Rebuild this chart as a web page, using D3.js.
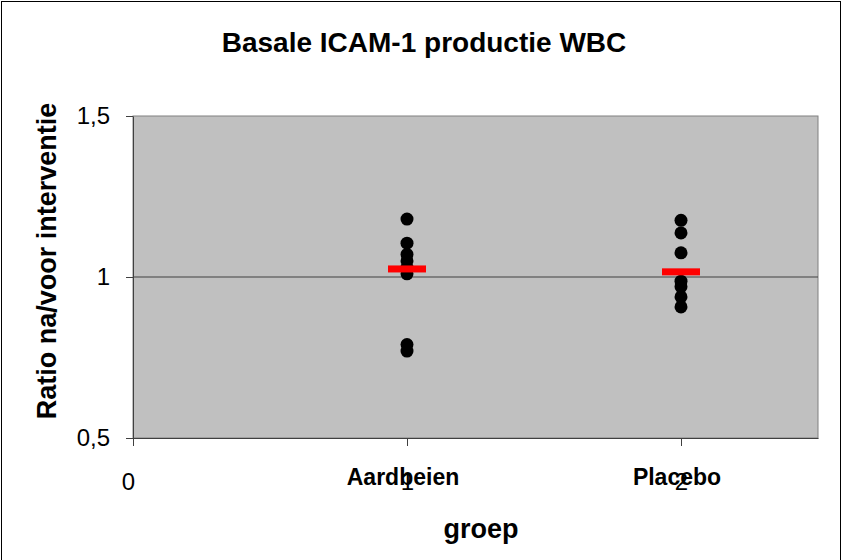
<!DOCTYPE html>
<html>
<head>
<meta charset="utf-8">
<script src="https://cdn.jsdelivr.net/npm/d3@7"></script>
<style>
	body { margin: 0; background: #fff; }
	svg { display: block; font-family: "Liberation Sans", Arial, sans-serif; }
</style>
</head>
<body>
<svg id="chart"></svg>
<script>
const title = "Basale ICAM-1 productie WBC"
const yTitle = "Ratio na/voor interventie"
const xTitle = "groep"
const categories = ["Aardbeien", "Placebo"]
const categoryPos = [1, 2]
const aardbeien = [1.18, 1.105, 1.07, 1.05, 1.03, 1.01, 0.79, 0.77]
const placebo = [1.176, 1.137, 1.075, 0.987, 0.97, 0.938, 0.907]
const groupMeans = [1.025, 1.016]
const yTicks = [0.5, 1, 1.5]
const xTicks = [0, 1, 2]

const width = 843
const height = 560
const plot = {left: 133, right: 818, top: 116, bottom: 438}

const nl = d3.formatLocale({decimal: ",", thousands: ".", grouping: [3], currency: ["€", ""]})
const fmt = nl.format(".1~f")

const x = d3.scaleLinear().domain([0, 2.5]).range([plot.left, plot.right])
const y = d3.scaleLinear().domain([0.5, 1.5]).range([plot.bottom, plot.top])

const svg = d3.select("#chart")
	.attr("width", width)
	.attr("height", height)

svg.append("rect")
	.attr("x", 1.5).attr("y", 1.5)
	.attr("width", 839).attr("height", 600)
	.attr("fill", "#fff")
	.attr("stroke", "#000")

svg.append("rect")
	.attr("x", plot.left).attr("y", plot.top)
	.attr("width", plot.right - plot.left)
	.attr("height", plot.bottom - plot.top)
	.attr("fill", "#c0c0c0")
	.attr("stroke", "#808080")

// reference line at ratio 1
svg.append("line")
	.attr("x1", plot.left).attr("x2", plot.right)
	.attr("y1", y(1)).attr("y2", y(1))
	.attr("stroke", "#404040")

const yAxis = svg.append("g")
	.attr("transform", "translate(" + plot.left + ",0)")
	.call(d3.axisLeft(y).tickValues(yTicks).tickFormat(fmt).tickSize(7).tickSizeOuter(0).tickPadding(16))
yAxis.selectAll("text").attr("font-size", 24).attr("font-family", null).attr("fill", "#000")

const xAxis = svg.append("g")
	.attr("transform", "translate(0," + plot.bottom + ")")
	.call(d3.axisBottom(x).tickValues(xTicks).tickFormat(d3.format("d")).tickSize(8).tickSizeOuter(0).tickPadding(27))
xAxis.selectAll("text").attr("font-size", 24).attr("font-family", null).attr("fill", "#000")
xAxis.selectAll("text").filter(d => d === 0).attr("dx", -5)

svg.selectAll(".domain, .tick line").attr("stroke", "#404040")

svg.selectAll(".cat")
	.data(categories)
	.join("text")
	.attr("class", "cat")
	.attr("x", (d, i) => x(categoryPos[i]) - 4)
	.attr("y", plot.bottom + 47)
	.attr("text-anchor", "middle")
	.attr("font-size", 23)
	.attr("font-weight", "bold")
	.text(d => d)

const groups = [aardbeien, placebo]
groups.forEach((vals, i) => {
	svg.append("g").selectAll("circle")
		.data(vals)
		.join("circle")
		.attr("cx", x(categoryPos[i]))
		.attr("cy", d => y(d))
		.attr("r", 6.5)
		.attr("fill", "#000")
})

svg.selectAll(".mean")
	.data(groupMeans)
	.join("rect")
	.attr("class", "mean")
	.attr("x", (d, i) => x(categoryPos[i]) - 19)
	.attr("y", d => y(d) - 3.5)
	.attr("width", 38)
	.attr("height", 7)
	.attr("fill", "#ff0000")

svg.append("text")
	.attr("x", 424).attr("y", 52)
	.attr("text-anchor", "middle")
	.attr("font-size", 28)
	.attr("font-weight", "bold")
	.text(title)

svg.append("text")
	.attr("transform", "translate(56,261) rotate(-90)")
	.attr("text-anchor", "middle")
	.attr("font-size", 27)
	.attr("font-weight", "bold")
	.text(yTitle)

svg.append("text")
	.attr("x", 481).attr("y", 538)
	.attr("text-anchor", "middle")
	.attr("font-size", 27)
	.attr("font-weight", "bold")
	.text(xTitle)
</script>
</body>
</html>
